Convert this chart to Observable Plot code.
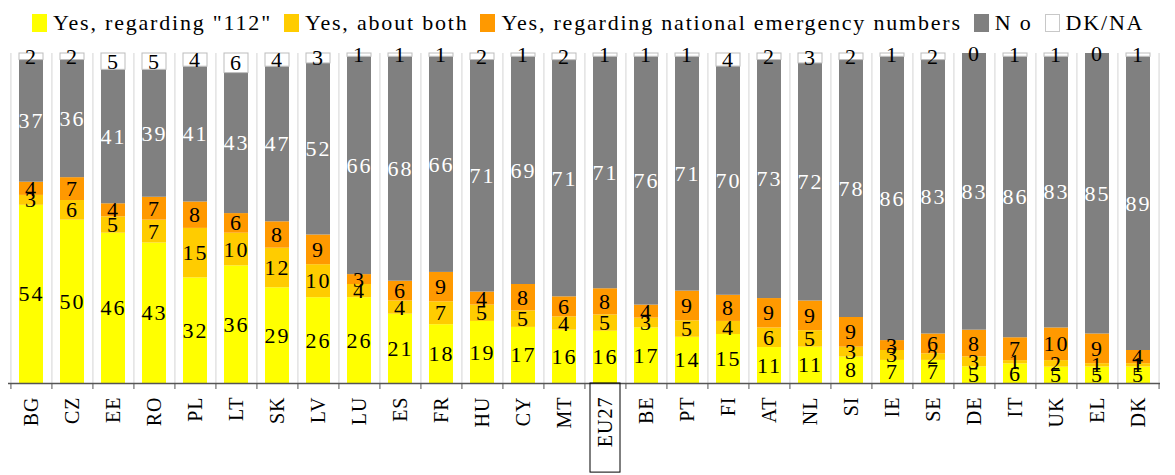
<!DOCTYPE html>
<html>
<head>
<meta charset="utf-8">
<script src="https://cdn.jsdelivr.net/npm/d3@7"></script>
<script src="https://cdn.jsdelivr.net/npm/@observablehq/plot@0.6"></script>
<style>
  body { margin: 0; background: white; font-family: "Liberation Serif", serif; }
  #wrap { width: 1175px; height: 475px; position: relative; overflow: hidden; }
  #legend { height: 40px; box-sizing: border-box; padding: 6px 0 0 32px; display: flex; align-items: center; font-size: 22px; letter-spacing: 1.8px; white-space: nowrap; }
  .item { display: flex; align-items: center; margin-right: 12px; }
  .sw { width: 15px; height: 18px; margin-right: 6px; box-sizing: border-box; }
  svg text { letter-spacing: 1px; }
  svg g.vals text { letter-spacing: 2px; }
</style>
</head>
<body>
<div id="wrap">
  <div id="legend"></div>
  <div id="chart"></div>
</div>
<script>
const countries = ["BG","CZ","EE","RO","PL","LT","SK","LV","LU","ES","FR","HU","CY","MT","EU27","BE","PT","FI","AT","NL","SI","IE","SE","DE","IT","UK","EL","DK"];
const seriesNames = ["Yes, regarding \"112\"", "Yes, about both", "Yes, regarding national emergency numbers", "No", "DK/NA"];
const seriesColors = ["#FFFF00", "#FFCC00", "#FF9900", "#808080", "#FFFFFF"];
const yes112 = [54,50,46,43,32,36,29,26,26,21,18,19,17,16,16,17,14,15,11,11,8,7,7,5,6,5,5,5];
const yesBoth = [3,6,5,7,15,10,12,10,4,4,7,5,5,4,5,3,5,4,6,5,3,3,2,3,1,2,1,1];
const yesNational = [4,7,4,7,8,6,8,9,3,6,9,4,8,6,8,4,9,8,9,9,9,3,6,8,7,10,9,4];
const no = [37,36,41,39,41,43,47,52,66,68,66,71,69,71,71,76,71,70,73,72,78,86,83,83,86,83,85,89];
const dkna = [2,2,5,5,4,6,4,3,1,1,1,2,1,2,1,1,1,4,2,3,2,1,2,0,1,1,0,1];
const highlighted = ["EU27"];

const seriesValues = [yes112, yesBoth, yesNational, no, dkna];
const data = [];
countries.forEach((c, i) => {
  seriesNames.forEach((s, j) => data.push({country: c, category: s, value: seriesValues[j][i]}));
});

// legend
const legend = document.getElementById("legend");
seriesNames.forEach((s, j) => {
  const it = document.createElement("div");
  it.className = "item";
  const sw = document.createElement("div");
  sw.className = "sw";
  sw.style.background = seriesColors[j];
  if (seriesColors[j] === "#FFFFFF") sw.style.border = "1px solid #c8c8c8";
  const tx = document.createElement("span");
  tx.textContent = s === "No" ? "N o" : s;
  it.appendChild(sw); it.appendChild(tx);
  legend.appendChild(it);
});

const W = 1175, H = 435, mL = 8, mR = 15, mT = 13, mB = 92;
const step = (W - mL - mR) / countries.length;
const last = countries[countries.length - 1];

const chart = Plot.plot({
  width: W, height: H,
  marginLeft: mL, marginRight: mR, marginTop: mT, marginBottom: mB,
  style: {fontFamily: "Liberation Serif", fontSize: "20px", background: "white", color: "black"},
  x: {domain: countries, paddingInner: 0.42, paddingOuter: 0.21, label: null},
  y: {domain: [0, 1], axis: null},
  color: {domain: seriesNames, range: seriesColors},
  marks: [
    Plot.ruleX(countries, {x: d => d, dx: -step / 2, y1: 0, y2: 1, stroke: "#d4d4d4", strokeWidth: 1}),
    Plot.ruleX([last], {x: d => d, dx: step / 2, y1: 0, y2: 1, stroke: "#d4d4d4", strokeWidth: 1}),
    Plot.barY(data, {x: "country", y: "value", fill: "category", offset: "normalize",
      stroke: d => d.category === "DK/NA" ? "#bdbdbd" : "none", strokeWidth: 1}),
    Plot.ruleY([0], {stroke: "#555", strokeWidth: 1.5}),
    Plot.ruleX(countries, {x: d => d, dx: -step / 2, y1: 0, y2: 0, insetBottom: -6, stroke: "#555", strokeWidth: 1}),
    Plot.ruleX([last], {x: d => d, dx: step / 2, y1: 0, y2: 0, insetBottom: -6, stroke: "#555", strokeWidth: 1}),
    Plot.text(data, Plot.stackY({x: "country", y: "value", z: "category", offset: "normalize",
      text: d => String(d.value), fontSize: 22, className: "vals",
      fill: d => d.category === "No" ? "white" : "black"})),
    Plot.axisX({tickRotate: -90, tickSize: 0, tickPadding: 13, fontSize: 20, label: null, fill: "black"}),
    Plot.barY(highlighted, {x: d => d, y1: 0, y2: -0.27, fill: "none", stroke: "black", strokeWidth: 1, insetLeft: -3, insetRight: -3})
  ]
});
document.getElementById("chart").appendChild(chart);
</script>
</body>
</html>
